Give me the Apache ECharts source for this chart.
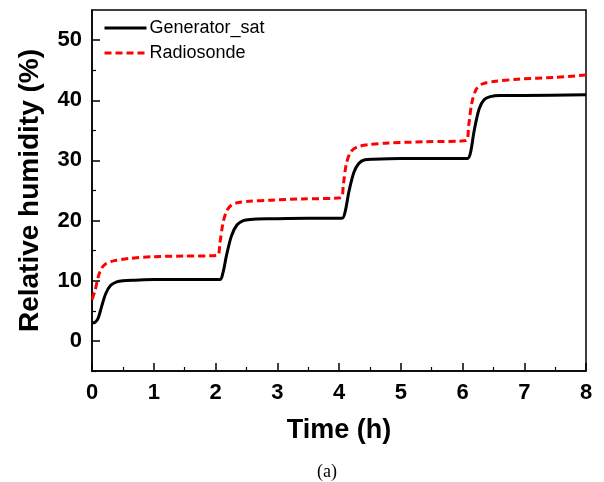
<!DOCTYPE html>
<html>
<head>
<meta charset="utf-8">
<script src="https://cdn.jsdelivr.net/npm/echarts@6/dist/echarts.min.js"></script>
<style>
  html, body { margin: 0; padding: 0; background: #fff; }
  #chart { width: 604px; height: 482px; }
</style>
</head>
<body>
<div id="chart"></div>
<script>
  // time (h) and relative humidity (%)
  var genTime = [0, 0.05, 0.1, 0.15, 0.22, 0.3, 0.4, 0.5, 0.7, 1.0, 2.07,
    2.12, 2.18, 2.26, 2.35, 2.45, 2.56, 2.9, 3.5, 4.05,
    4.1, 4.16, 4.24, 4.32, 4.42, 4.55, 5.0, 6.08,
    6.13, 6.19, 6.27, 6.35, 6.45, 6.6, 7.0, 8.0]
  var genRH = [3.0, 3.1, 3.8, 5.5, 7.8, 9.2, 9.8, 10.0, 10.1, 10.2, 10.2,
    11.3, 14.3, 17.5, 19.3, 20.0, 20.2, 20.3, 20.4, 20.4,
    21.5, 24.8, 28.0, 29.5, 30.1, 30.2, 30.3, 30.3,
    31.3, 35.0, 38.6, 40.1, 40.6, 40.8, 40.8, 40.9]

  var radTime = [0, 0.05, 0.1, 0.15, 0.22, 0.35, 0.6, 1.0, 1.5, 2.03,
    2.07, 2.12, 2.18, 2.26, 2.37, 2.55, 2.9, 3.4, 4.03,
    4.07, 4.12, 4.19, 4.29, 4.47, 4.8, 5.4, 6.06,
    6.1, 6.15, 6.22, 6.32, 6.5, 6.9, 7.5, 8.0]
  var radRH = [6.9, 8.4, 10.6, 12.0, 12.8, 13.3, 13.7, 14.0, 14.1, 14.2,
    16.2, 19.5, 21.6, 22.6, 23.0, 23.2, 23.4, 23.6, 23.8,
    26.0, 29.5, 31.4, 32.2, 32.6, 32.9, 33.1, 33.3,
    35.8, 39.5, 41.8, 42.7, 43.1, 43.5, 43.8, 44.2]

  var yMajor = [0, 10, 20, 30, 40, 50]
  var yMinor = [-5, 5, 15, 25, 35, 45]

  function pairs(xs, ys) {
    return xs.map(function(x, i) { return [x, ys[i]] })
  }

  var myChart = echarts.init(document.getElementById('chart'))
  var labelFont = { fontFamily: 'Liberation Sans', fontWeight: 'bold', color: '#000' }

  var option = {
    animation: false,
    grid: {
      left: 92, right: 18, top: 10, bottom: 111,
      show: true, borderColor: '#000', borderWidth: 1.5
    },
    legend: {
      left: 98, top: 14,
      orient: 'vertical',
      itemWidth: 42, itemHeight: 14, itemGap: 7,
      itemStyle: { opacity: 0 },
      lineStyle: { width: 3 },
      textStyle: { fontFamily: 'Liberation Sans', fontSize: 18, color: '#000', padding: [0, 0, 0, -2] },
      data: ['Generator_sat', 'Radiosonde']
    },
    xAxis: {
      type: 'value', min: 0, max: 8, interval: 1,
      name: 'Time (h)', nameLocation: 'middle', nameGap: 46,
      nameTextStyle: Object.assign({ fontSize: 27 }, labelFont),
      axisLine: { onZero: false, lineStyle: { color: '#000', width: 1.5 } },
      axisTick: { inside: true, length: 8, lineStyle: { color: '#000', width: 1.5 } },
      minorTick: { show: true, splitNumber: 2, length: 4, lineStyle: { color: '#000', width: 1.2 } },
      axisLabel: Object.assign({ fontSize: 22, margin: 11 }, labelFont),
      splitLine: { show: false }
    },
    yAxis: [{
      type: 'value', min: -5, max: 55,
      name: 'Relative humidity (%)', nameLocation: 'middle', nameGap: 48,
      nameTextStyle: Object.assign({ fontSize: 28 }, labelFont),
      axisLine: { onZero: false, lineStyle: { color: '#000', width: 1.5 } },
      axisTick: { inside: true, length: 8, customValues: yMajor, lineStyle: { color: '#000', width: 1.5 } },
      axisLabel: Object.assign({ fontSize: 22, margin: 10, customValues: yMajor }, labelFont),
      splitLine: { show: false }
    }, {
      type: 'value', min: -5, max: 55, position: 'left',
      axisLine: { show: false },
      axisTick: { inside: true, length: 4, customValues: yMinor, lineStyle: { color: '#000', width: 1.2 } },
      axisLabel: { show: false },
      splitLine: { show: false }
    }],
    series: [{
      name: 'Generator_sat',
      type: 'line',
      smooth: 0.3,
      showSymbol: false,
      symbol: 'none',
      lineStyle: { color: '#000', width: 3 },
      itemStyle: { color: '#000' },
      data: pairs(genTime, genRH)
    }, {
      name: 'Radiosonde',
      type: 'line',
      smooth: 0.3,
      showSymbol: false,
      symbol: 'none',
      lineStyle: { color: '#ff0000', width: 3, type: [7, 4] },
      itemStyle: { color: '#ff0000' },
      data: pairs(radTime, radRH)
    }],
    graphic: [{
      type: 'text', x: 327, y: 472,
      style: { text: '(a)', font: '18px "Liberation Serif"', fill: '#000', align: 'center', verticalAlign: 'middle' }
    }]
  }

  myChart.setOption(option)
</script>
</body>
</html>
